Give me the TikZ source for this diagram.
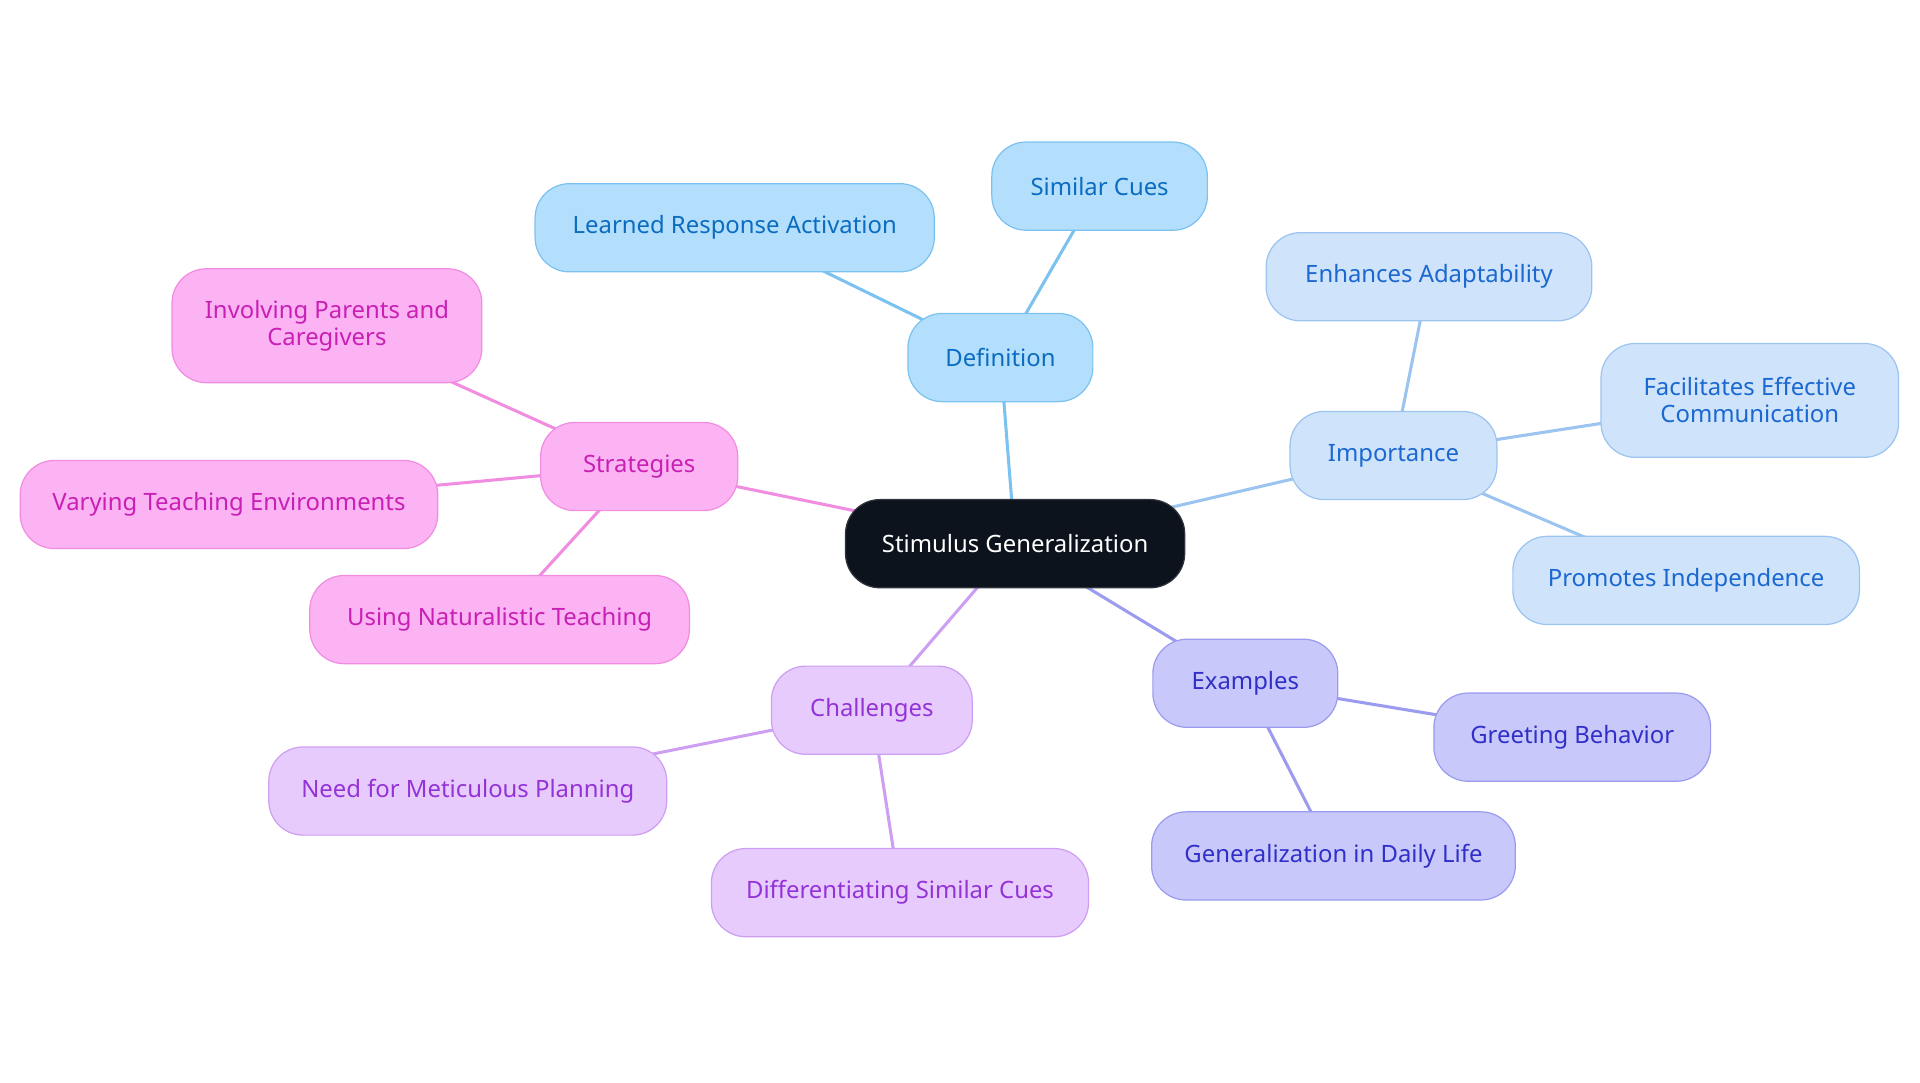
\documentclass[tikz,border=0pt]{standalone}
\usepackage{fontspec}
\setmainfont{Noto Sans}
\usetikzlibrary{backgrounds}
\definecolor{cdark}{HTML}{0D131C}
\definecolor{cdarkb}{HTML}{30353D}
\definecolor{defF}{HTML}{B3DFFC}
\definecolor{defD}{HTML}{7CC2F0}
\definecolor{defT}{HTML}{0B6CC0}
\definecolor{impF}{HTML}{CFE3FA}
\definecolor{impD}{HTML}{9CC4F0}
\definecolor{impT}{HTML}{1A68D0}
\definecolor{exF}{HTML}{C8C8FB}
\definecolor{exD}{HTML}{9B9BEF}
\definecolor{exT}{HTML}{3030C8}
\definecolor{chF}{HTML}{E8CBFD}
\definecolor{chD}{HTML}{CD9FF2}
\definecolor{chT}{HTML}{9333D6}
\definecolor{stF}{HTML}{FCB3F3}
\definecolor{stD}{HTML}{F08DE0}
\definecolor{stT}{HTML}{C81FB4}
\tikzset{
  pill/.style={rectangle, rounded corners=28pt, minimum height=72pt, inner xsep=4pt, inner ysep=4pt, line width=1pt, align=center, font=\fontsize{19.5}{22}\selectfont},
  rootbox/.style={pill, fill=cdark, draw=cdarkb, text=white},
  defbox/.style={pill, fill=defF, draw=defD, text=defT},
  impbox/.style={pill, fill=impF, draw=impD, text=impT},
  exbox/.style={pill, fill=exF, draw=exD, text=exT},
  chbox/.style={pill, fill=chF, draw=chD, text=chT},
  stbox/.style={pill, fill=stF, draw=stD, text=stT},
  link/.style={line width=2.5pt},
}
\begin{document}
\begin{tikzpicture}[x=1pt,y=-1pt]
\useasboundingbox (0,0) rectangle (1568,884);
\node[rootbox, minimum width=277pt] (sg) at (829,444) {Stimulus Generalization};

\node[defbox, minimum width=151pt] (def) at (817,292) {Definition};
\node[defbox, minimum width=326pt] (lra) at (600,186) {Learned Response Activation};
\node[defbox, minimum width=176pt] (sc) at (898,152) {Similar Cues};

\node[impbox, minimum width=169pt] (imp) at (1138,372) {Importance};
\node[impbox, minimum width=266pt] (ea) at (1167,226) {Enhances Adaptability};
\node[impbox, minimum width=243pt, minimum height=93pt] (fec) at (1429,327) {Facilitates Effective\\Communication};
\node[impbox, minimum width=283pt] (pi) at (1377,474) {Promotes Independence};

\node[exbox, minimum width=151pt] (ex) at (1017,558) {Examples};
\node[exbox, minimum width=226pt] (gb) at (1284,602) {Greeting Behavior};
\node[exbox, minimum width=297pt] (gdl) at (1089,699) {Generalization in Daily Life};

\node[chbox, minimum width=164pt] (ch) at (712,580) {Challenges};
\node[chbox, minimum width=325pt] (nmp) at (382,646) {Need for Meticulous Planning};
\node[chbox, minimum width=308pt] (dsc) at (735,729) {Differentiating Similar Cues};

\node[stbox, minimum width=161pt] (st) at (522,381) {Strategies};
\node[stbox, minimum width=253pt, minimum height=93pt] (ipc) at (267,266) {Involving Parents and\\Caregivers};
\node[stbox, minimum width=341pt] (vte) at (187,412) {Varying Teaching Environments};
\node[stbox, minimum width=310pt] (unt) at (408,506) {Using Naturalistic Teaching};

\begin{pgfonlayer}{background}
\draw[link, defD] (sg.center) -- (def.center);
\draw[link, defD] (def.center) -- (lra.center);
\draw[link, defD] (def.center) -- (sc.center);
\draw[link, impD] (sg.center) -- (imp.center);
\draw[link, impD] (imp.center) -- (ea.center);
\draw[link, impD] (imp.center) -- (fec.center);
\draw[link, impD] (imp.center) -- (pi.center);
\draw[link, exD] (sg.center) -- (ex.center);
\draw[link, exD] (ex.center) -- (gb.center);
\draw[link, exD] (ex.center) -- (gdl.center);
\draw[link, chD] (sg.center) -- (ch.center);
\draw[link, chD] (ch.center) -- (nmp.center);
\draw[link, chD] (ch.center) -- (dsc.center);
\draw[link, stD] (sg.center) -- (st.center);
\draw[link, stD] (st.center) -- (ipc.center);
\draw[link, stD] (st.center) -- (vte.center);
\draw[link, stD] (st.center) -- (unt.center);
\end{pgfonlayer}
\end{tikzpicture}
\end{document}
